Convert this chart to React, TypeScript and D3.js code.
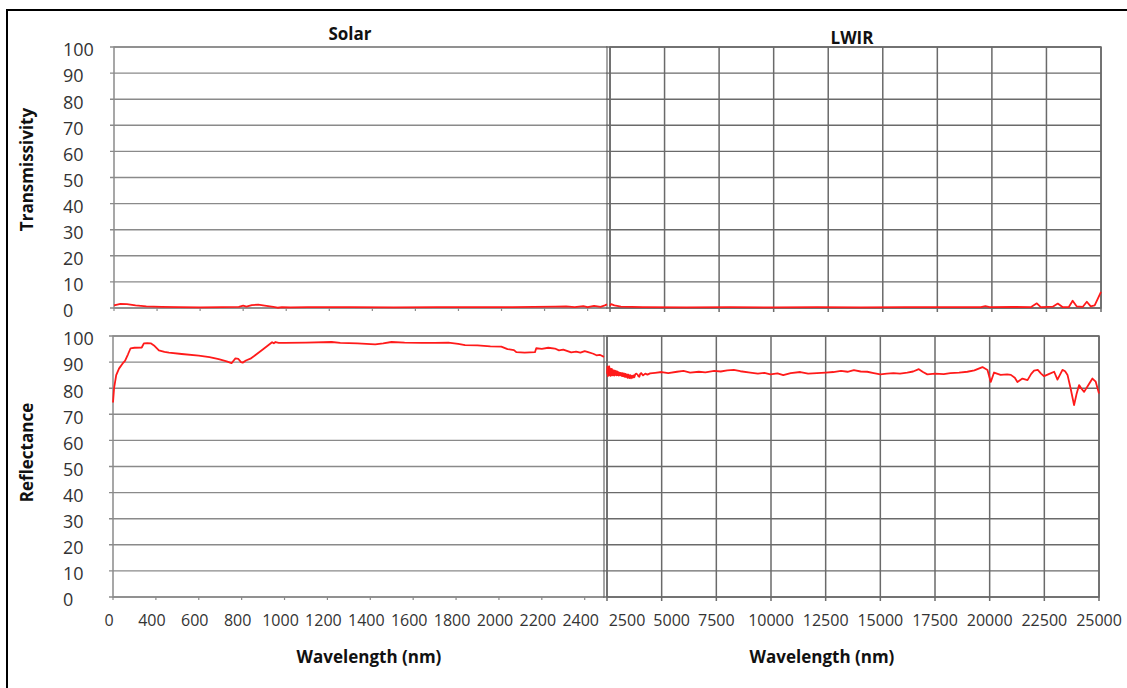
import React from "react";
import * as d3 from "d3";

// Axis ticks and labels
const yTickValues = [0, 10, 20, 30, 40, 50, 60, 70, 80, 90, 100];
const solarTickValues = [200, 400, 600, 800, 1000, 1200, 1400, 1600, 1800, 2000, 2200, 2400];
const solarTickLabels = ["0", "400", "600", "800", "1000", "1200", "1400", "1600", "1800", "2000", "2200", "2400"];
const lwirTickValues = [2500, 5000, 7500, 10000, 12500, 15000, 17500, 20000, 22500, 25000];
const lwirTickLabels = ["2500", "5000", "7500", "10000", "12500", "15000", "17500", "20000", "22500", "25000"];

// Solar range spectra: [wavelength nm, %]
const solarTransmissivity: [number, number][] = [
  [200, 1.0], [230, 1.6], [260, 1.5], [300, 1.0], [350, 0.6], [420, 0.4], [500, 0.3], [600, 0.25],
  [700, 0.3], [780, 0.4], [800, 0.9], [815, 0.5], [840, 1.1], [870, 1.3], [900, 0.9], [940, 0.4],
  [960, 0.1], [980, 0.35], [1020, 0.25], [1100, 0.3], [1300, 0.3], [1500, 0.25], [1700, 0.3],
  [1900, 0.3], [2050, 0.35], [2150, 0.4], [2250, 0.5], [2300, 0.6], [2340, 0.3], [2380, 0.7],
  [2400, 0.3], [2430, 0.8], [2460, 0.4], [2480, 1.0], [2490, 1.4],
];

const solarReflectance: [number, number][] = [
  [200, 74.5], [205, 80], [215, 85], [228, 87.5], [245, 89.5], [256, 90.5], [270, 93], [282, 95.3],
  [300, 95.5], [334, 95.6], [344, 97.2], [360, 97.3], [376, 97.2], [391, 96.4], [414, 94.5],
  [440, 93.9], [461, 93.6], [520, 93.1], [600, 92.5], [650, 91.9], [693, 91.1], [730, 90.3],
  [753, 89.6], [763, 90.6], [771, 91.4], [785, 91.2], [797, 90.0], [805, 89.8], [820, 90.6],
  [841, 91.3], [860, 92.4], [900, 94.9], [942, 97.6], [950, 97.2], [958, 97.7], [973, 97.4],
  [1000, 97.4], [1100, 97.5], [1220, 97.7], [1260, 97.4], [1340, 97.2], [1423, 96.8], [1460, 97.2],
  [1499, 97.7], [1560, 97.5], [1640, 97.4], [1700, 97.4], [1764, 97.5], [1810, 97.0], [1842, 96.5],
  [1900, 96.4], [1960, 96.0], [2011, 95.9], [2040, 95.0], [2070, 94.6], [2081, 93.8], [2120, 93.6],
  [2168, 93.8], [2174, 95.3], [2200, 95.1], [2230, 95.5], [2261, 95.2], [2280, 94.5], [2300, 94.8],
  [2337, 93.7], [2360, 94.0], [2380, 93.6], [2400, 94.2], [2416, 93.8], [2440, 93.2], [2455, 92.6],
  [2470, 92.8], [2490, 92.0],
];

// Long-wave infrared spectra: [wavelength nm, %]
const lwirTransmissivity: [number, number][] = [
  [2500, 0.8], [2550, 1.5], [2700, 1.0], [3000, 0.5], [4000, 0.3], [6000, 0.25], [8000, 0.3],
  [10000, 0.25], [12000, 0.3], [14000, 0.25], [16000, 0.3], [18000, 0.3], [19500, 0.3], [19700, 0.7],
  [19900, 0.3], [21000, 0.4], [21780, 0.3], [22060, 1.8], [22240, 0.3], [22560, 0.4], [22790, 0.5],
  [23020, 1.7], [23250, 0.3], [23520, 0.3], [23700, 2.8], [23890, 0.6], [24160, 0.4], [24350, 2.4],
  [24530, 0.6], [24710, 1.0], [25000, 6.2],
];

const lwirReflectance: [number, number][] = [
  [2500, 85.5], [2520, 88.3], [2540, 84.6], [2560, 87.9], [2580, 85.2], [2600, 88.4], [2620, 85.0],
  [2640, 87.6], [2660, 84.7], [2680, 87.2], [2700, 85.1], [2720, 87.4], [2740, 84.9], [2760, 86.9],
  [2790, 85.0], [2810, 86.8], [2830, 84.8], [2860, 86.7], [2880, 85.1], [2910, 86.5], [2930, 84.9],
  [2960, 86.4], [2980, 85.0], [3010, 86.2], [3040, 84.8], [3070, 86.0], [3100, 85.0], [3130, 85.9],
  [3160, 84.7], [3200, 85.8], [3230, 84.6], [3270, 85.7], [3300, 84.4], [3340, 85.5], [3370, 84.3],
  [3410, 85.3], [3440, 84.0], [3480, 85.2], [3520, 83.9], [3560, 85.0], [3600, 83.8], [3640, 84.8],
  [3680, 84.0], [3720, 84.9], [3750, 84.2], [3790, 85.3], [3830, 85.6], [3900, 85.2], [3940, 84.5],
  [3980, 84.4], [4020, 85.5], [4060, 85.8], [4150, 84.9], [4250, 85.6], [4350, 85.2], [4470, 85.7],
  [4700, 85.9], [5000, 86.2], [5300, 85.8], [5700, 86.3], [6000, 86.6], [6300, 86.0], [6700, 86.3],
  [7000, 86.1], [7400, 86.6], [7700, 86.4], [8000, 86.8], [8300, 87.0], [8600, 86.5], [9050, 86.0],
  [9400, 85.6], [9700, 85.9], [9970, 85.3], [10300, 85.7], [10560, 85.0], [10900, 85.8],
  [11340, 86.2], [11700, 85.6], [12100, 85.8], [12500, 86.0], [12850, 86.2], [13200, 86.6],
  [13500, 86.3], [13790, 86.9], [14100, 86.4], [14400, 86.3], [14700, 85.8], [15000, 85.3],
  [15300, 85.6], [15600, 85.8], [15900, 85.6], [16230, 86.0], [16500, 86.4], [16760, 87.3],
  [16950, 86.2], [17150, 85.3], [17500, 85.6], [17900, 85.4], [18200, 85.8], [18600, 86.0],
  [18980, 86.3], [19300, 86.8], [19670, 88.1], [19900, 87.0], [20050, 82.4], [20200, 86.0],
  [20500, 85.1], [20800, 85.3], [20970, 85.1], [21150, 84.0], [21270, 82.4], [21500, 83.7],
  [21730, 83.1], [21900, 85.5], [22030, 86.7], [22200, 87.0], [22350, 85.6], [22490, 84.6],
  [22700, 85.4], [22950, 86.3], [23100, 83.3], [23330, 87.0], [23450, 86.5], [23560, 85.1],
  [23700, 80.0], [23860, 73.5], [23980, 78.0], [24090, 81.2], [24200, 79.8], [24320, 78.6],
  [24500, 81.0], [24700, 83.7], [24850, 82.5], [25000, 78.0],
];

const WIDTH = 1127;
const HEIGHT = 688;
const FONT = "'Open Sans', 'Liberation Sans', sans-serif";
const GRID_SOLAR = "#8a8a8a";
const GRID_LWIR = "#6a6a6a";
const RED = "#ff1a1a";

type PanelProps = {
  x0: number; x1: number; y0: number; y1: number;
  domain: [number, number];
  xTicks: number[];
  verticalGrid: boolean;
  gridColor: string;
  data: [number, number][];
};

function Panel({ x0, x1, y0, y1, domain, xTicks, verticalGrid, gridColor, data }: PanelProps) {
  const x = d3.scaleLinear().domain(domain).range([x0, x1]);
  const y = d3.scaleLinear().domain([0, 100]).range([y1, y0]);
  const line = d3.line<[number, number]>().x((d) => x(d[0])).y((d) => y(d[1])).curve(d3.curveLinear);
  return (
    <g>
      {yTickValues.map((v) => (
        <line key={"h" + v} x1={x0 - 4} x2={x1} y1={y(v)} y2={y(v)} stroke={gridColor} strokeWidth={1.4} />
      ))}
      {xTicks.map((v) =>
        verticalGrid ? (
          <line key={"v" + v} x1={x(v)} x2={x(v)} y1={y0} y2={y1 + 4} stroke={gridColor} strokeWidth={1.5} />
        ) : (
          <line key={"t" + v} x1={x(v)} x2={x(v)} y1={y1} y2={y1 + 3} stroke={gridColor} strokeWidth={1.2} />
        )
      )}
      <rect x={x0} y={y0} width={x1 - x0} height={y1 - y0} fill="none" stroke={gridColor} strokeWidth={1.5} />
      <path d={line(data) ?? ""} fill="none" stroke={RED} strokeWidth={1.8} strokeLinejoin="round" />
    </g>
  );
}

export default function App() {
  const top = { y0: 47, y1: 308 };
  const bottom = { y0: 336, y1: 597 };
  const solarTop = { x0: 114, x1: 607 };
  const solarBottom = { x0: 113, x1: 604 };
  const lwirTop = { x0: 610, x1: 1101 };
  const lwirBottom = { x0: 607, x1: 1099 };
  const solarDomain: [number, number] = [200, 2490];
  const lwirDomain: [number, number] = [2500, 25000];

  const yTop = d3.scaleLinear().domain([0, 100]).range([top.y1, top.y0]);
  const yBottom = d3.scaleLinear().domain([0, 100]).range([bottom.y1, bottom.y0]);
  const xSolar = d3.scaleLinear().domain(solarDomain).range([solarBottom.x0, solarBottom.x1]);
  const xLwir = d3.scaleLinear().domain(lwirDomain).range([lwirBottom.x0, lwirBottom.x1]);

  const tickText = { fontFamily: FONT, fontSize: 16, fill: "#333" } as const;
  const yText = { fontFamily: FONT, fontSize: 18, fill: "#333" } as const;
  const titleText = { fontFamily: FONT, fontSize: 17, fontWeight: 700, fill: "#111" } as const;

  return (
    <svg width={WIDTH} height={HEIGHT} style={{ position: "absolute", left: 0, top: 0, background: "#fff" }}>
      <rect x={0} y={0} width={WIDTH} height={HEIGHT} fill="#fff" />
      {/* frame */}
      <line x1={7} x2={7} y1={10} y2={HEIGHT} stroke="#000" strokeWidth={2} />
      <line x1={6} x2={WIDTH} y1={10} y2={10} stroke="#000" strokeWidth={2} />

      <Panel {...solarTop} {...top} domain={solarDomain} xTicks={solarTickValues} verticalGrid={false} gridColor={GRID_SOLAR} data={solarTransmissivity} />
      <Panel {...lwirTop} {...top} domain={lwirDomain} xTicks={lwirTickValues} verticalGrid={true} gridColor={GRID_LWIR} data={lwirTransmissivity} />
      <Panel {...solarBottom} {...bottom} domain={solarDomain} xTicks={solarTickValues} verticalGrid={false} gridColor={GRID_SOLAR} data={solarReflectance} />
      <Panel {...lwirBottom} {...bottom} domain={lwirDomain} xTicks={lwirTickValues} verticalGrid={true} gridColor={GRID_LWIR} data={lwirReflectance} />

      {/* panel titles */}
      <text x={350} y={40} textAnchor="middle" style={titleText}>Solar</text>
      <text x={852} y={44} textAnchor="middle" style={titleText}>LWIR</text>

      {/* y tick labels */}
      {yTickValues.map((v) => (
        <text key={"yt" + v} x={63} y={yTop(v) + 3} dy="0.35em" style={yText}>{v}</text>
      ))}
      {yTickValues.map((v) => (
        <text key={"yb" + v} x={63} y={yBottom(v) + 3} dy="0.35em" style={yText}>{v}</text>
      ))}

      {/* y axis titles */}
      <text transform={`translate(${33},${(top.y0 + top.y1) / 2 - 8}) rotate(-90)`} textAnchor="middle" style={titleText}>Transmissivity</text>
      <text transform={`translate(${33},${(bottom.y0 + bottom.y1) / 2 - 14}) rotate(-90)`} textAnchor="middle" style={titleText}>Reflectance</text>

      {/* x tick labels */}
      {solarTickValues.map((v, i) => (
        <text key={"xs" + v} x={xSolar(v) - 4} y={626} textAnchor="middle" style={tickText}>{solarTickLabels[i]}</text>
      ))}
      {lwirTickValues.map((v, i) => (
        <text key={"xl" + v} x={xLwir(v) + (i === 0 ? 20 : i === 1 ? 10 : 0)} y={626} textAnchor="middle" style={tickText}>{lwirTickLabels[i]}</text>
      ))}

      {/* x axis titles */}
      <text x={369} y={663} textAnchor="middle" style={titleText}>Wavelength (nm)</text>
      <text x={822} y={663} textAnchor="middle" style={titleText}>Wavelength (nm)</text>
    </svg>
  );
}
